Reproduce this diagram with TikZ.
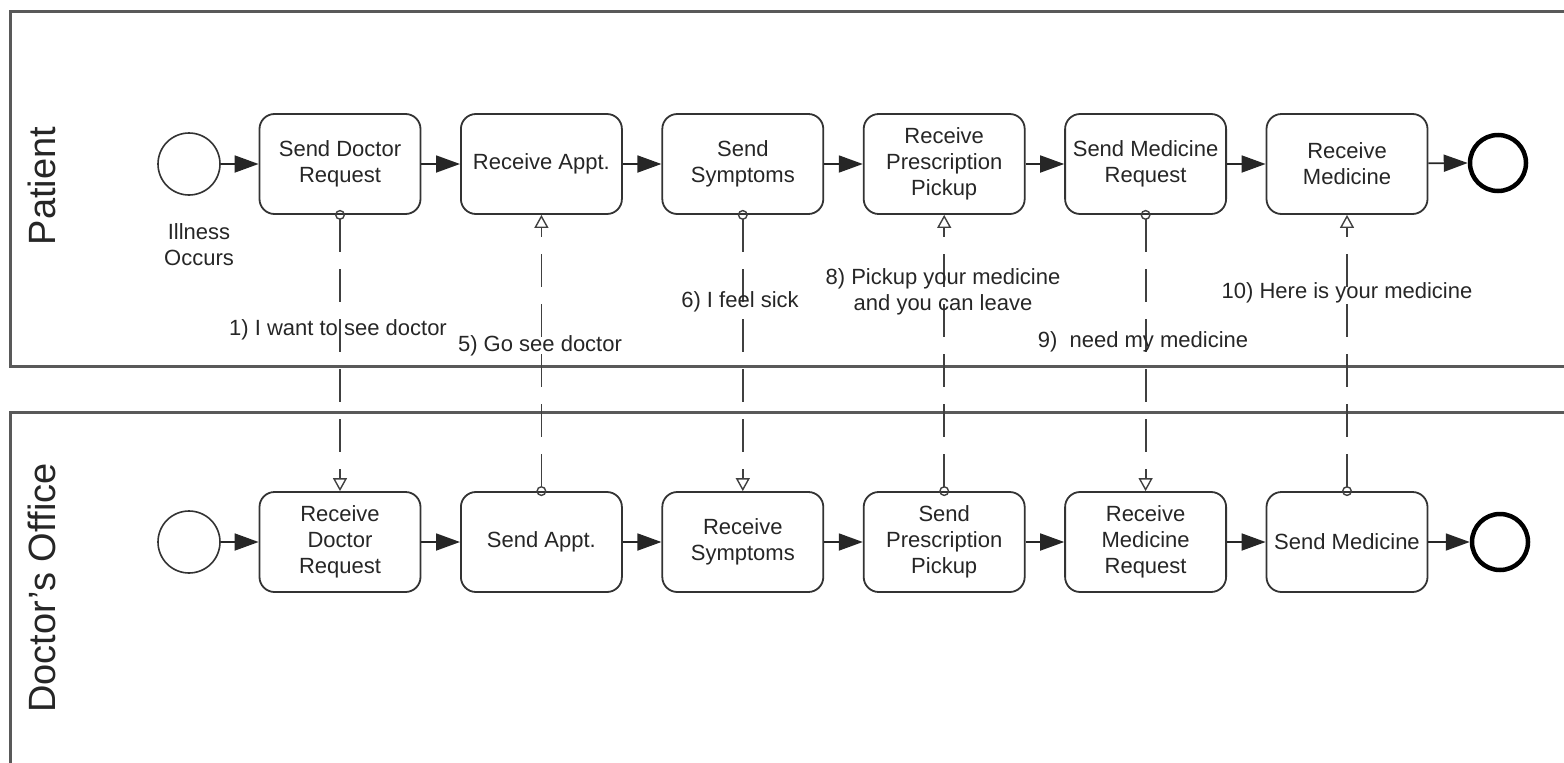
\documentclass[tikz,border=0pt]{standalone}
\usepackage{fontspec}
\setmainfont{Liberation Sans}
\usetikzlibrary{positioning,calc,arrows.meta}

\tikzset{
  task/.style={draw=black!80,line width=1.8pt,rounded corners=15pt,fill=white,
    minimum width=161pt,minimum height=100pt,inner sep=0pt,align=center,
    text=black!85,font=\fontsize{22}{26}\selectfont},
  startev/.style={circle,draw=black!80,line width=1.6pt,minimum size=62pt,inner sep=0pt},
  endev/.style={circle,draw=black,line width=4.5pt,minimum size=56pt,inner sep=0pt},
  seqflow/.style={draw=black!85,line width=1.8pt,-{Triangle[length=24pt,width=17pt]}},
  msgflow/.style={draw=black!75,line width=1.8pt,dash pattern=on 33pt off 17pt,
    {Circle[open,length=10pt,width=10pt,line width=1.4pt]}-{Triangle[open,length=13pt,width=14pt,line width=1.4pt]},
    shorten <=-5pt},
  msglabel/.style={inner sep=0pt,align=center,text=black!85,font=\fontsize{22}{26}\selectfont},
  lane/.style={draw=black!65,line width=3pt},
  lanelabel/.style={rotate=90,text=black!85,font=\fontsize{38}{40}\selectfont}
}

\begin{document}
\begin{tikzpicture}[x=1pt,y=-1pt]

\useasboundingbox (0,0) rectangle (1564,763);

% pools
\draw[lane] (1564,11) -| (10,366) -- (1564,366);
\draw[lane] (1564,412) -| (10,763);

\node[lanelabel] (lpat) at (42,186) {Patient};
\node[lanelabel] (ldoc) at (42,588) {Doctor’s Office};

% patient lane
\node[startev] (s1) at (189,164) {};
\foreach \n/\x/\txt in {t1/340/{Send Doctor\\Request},
                        t2/541.4/{Receive Appt.},
                        t3/742.8/{Send\\Symptoms},
                        t4/944.2/{Receive\\Prescription\\Pickup},
                        t5/1145.6/{Send Medicine\\Request},
                        t6/1347/{Receive\\Medicine}}
  {\node[task] (\n) at (\x,164) {\txt};}
\node[endev] (e1) at (1498,163) {};

\node[msglabel] (ill) at ($(s1)+(10,81)$) {Illness\\Occurs};

% doctor's office lane
\node[startev] (s2) at (189,542) {};
\foreach \n/\x/\txt in {b1/340/{Receive\\Doctor\\Request},
                        b2/541.4/{Send Appt.},
                        b3/742.8/{Receive\\Symptoms},
                        b4/944.2/{Send\\Prescription\\Pickup},
                        b5/1145.6/{Receive\\Medicine\\Request},
                        b6/1347/{Send Medicine}}
  {\node[task] (\n) at (\x,542) {\txt};}
\node[endev] (e2) at (1500,542) {};

% sequence flows
\draw[seqflow] (s1) -- (t1);
\draw[seqflow] (t1) -- (t2);
\draw[seqflow] (t2) -- (t3);
\draw[seqflow] (t3) -- (t4);
\draw[seqflow] (t4) -- (t5);
\draw[seqflow] (t5) -- (t6);
\draw[seqflow] (t6) -- (e1.west);

\draw[seqflow] (s2) -- (b1);
\draw[seqflow] (b1) -- (b2);
\draw[seqflow] (b2) -- (b3);
\draw[seqflow] (b3) -- (b4);
\draw[seqflow] (b4) -- (b5);
\draw[seqflow] (b5) -- (b6);
\draw[seqflow] (b6) -- (e2);

% message flows
\draw[msgflow] (t1.south) -- (b1.north);
\draw[msgflow] (b2.north) -- (t2.south);
\draw[msgflow] (t3.south) -- (b3.north);
\draw[msgflow] (b4.north) -- (t4.south);
\draw[msgflow] (t5.south) -- (b5.north);
\draw[msgflow] (b6.north) -- (t6.south);

\node[msglabel] (m1)  at (338,330)    {1) I want to see doctor};
\node[msglabel] (m5)  at (540,346)    {5) Go see doctor};
\node[msglabel] (m6)  at (740,302)    {6) I feel sick};
\node[msglabel] (m8)  at (943,292)    {8) Pickup your medicine\\and you can leave};
\node[msglabel] (m9)  at (1143,342)   {9)\ \ need my medicine};
\node[msglabel] (m10) at (1347,293)   {10) Here is your medicine};

\end{tikzpicture}
\end{document}
